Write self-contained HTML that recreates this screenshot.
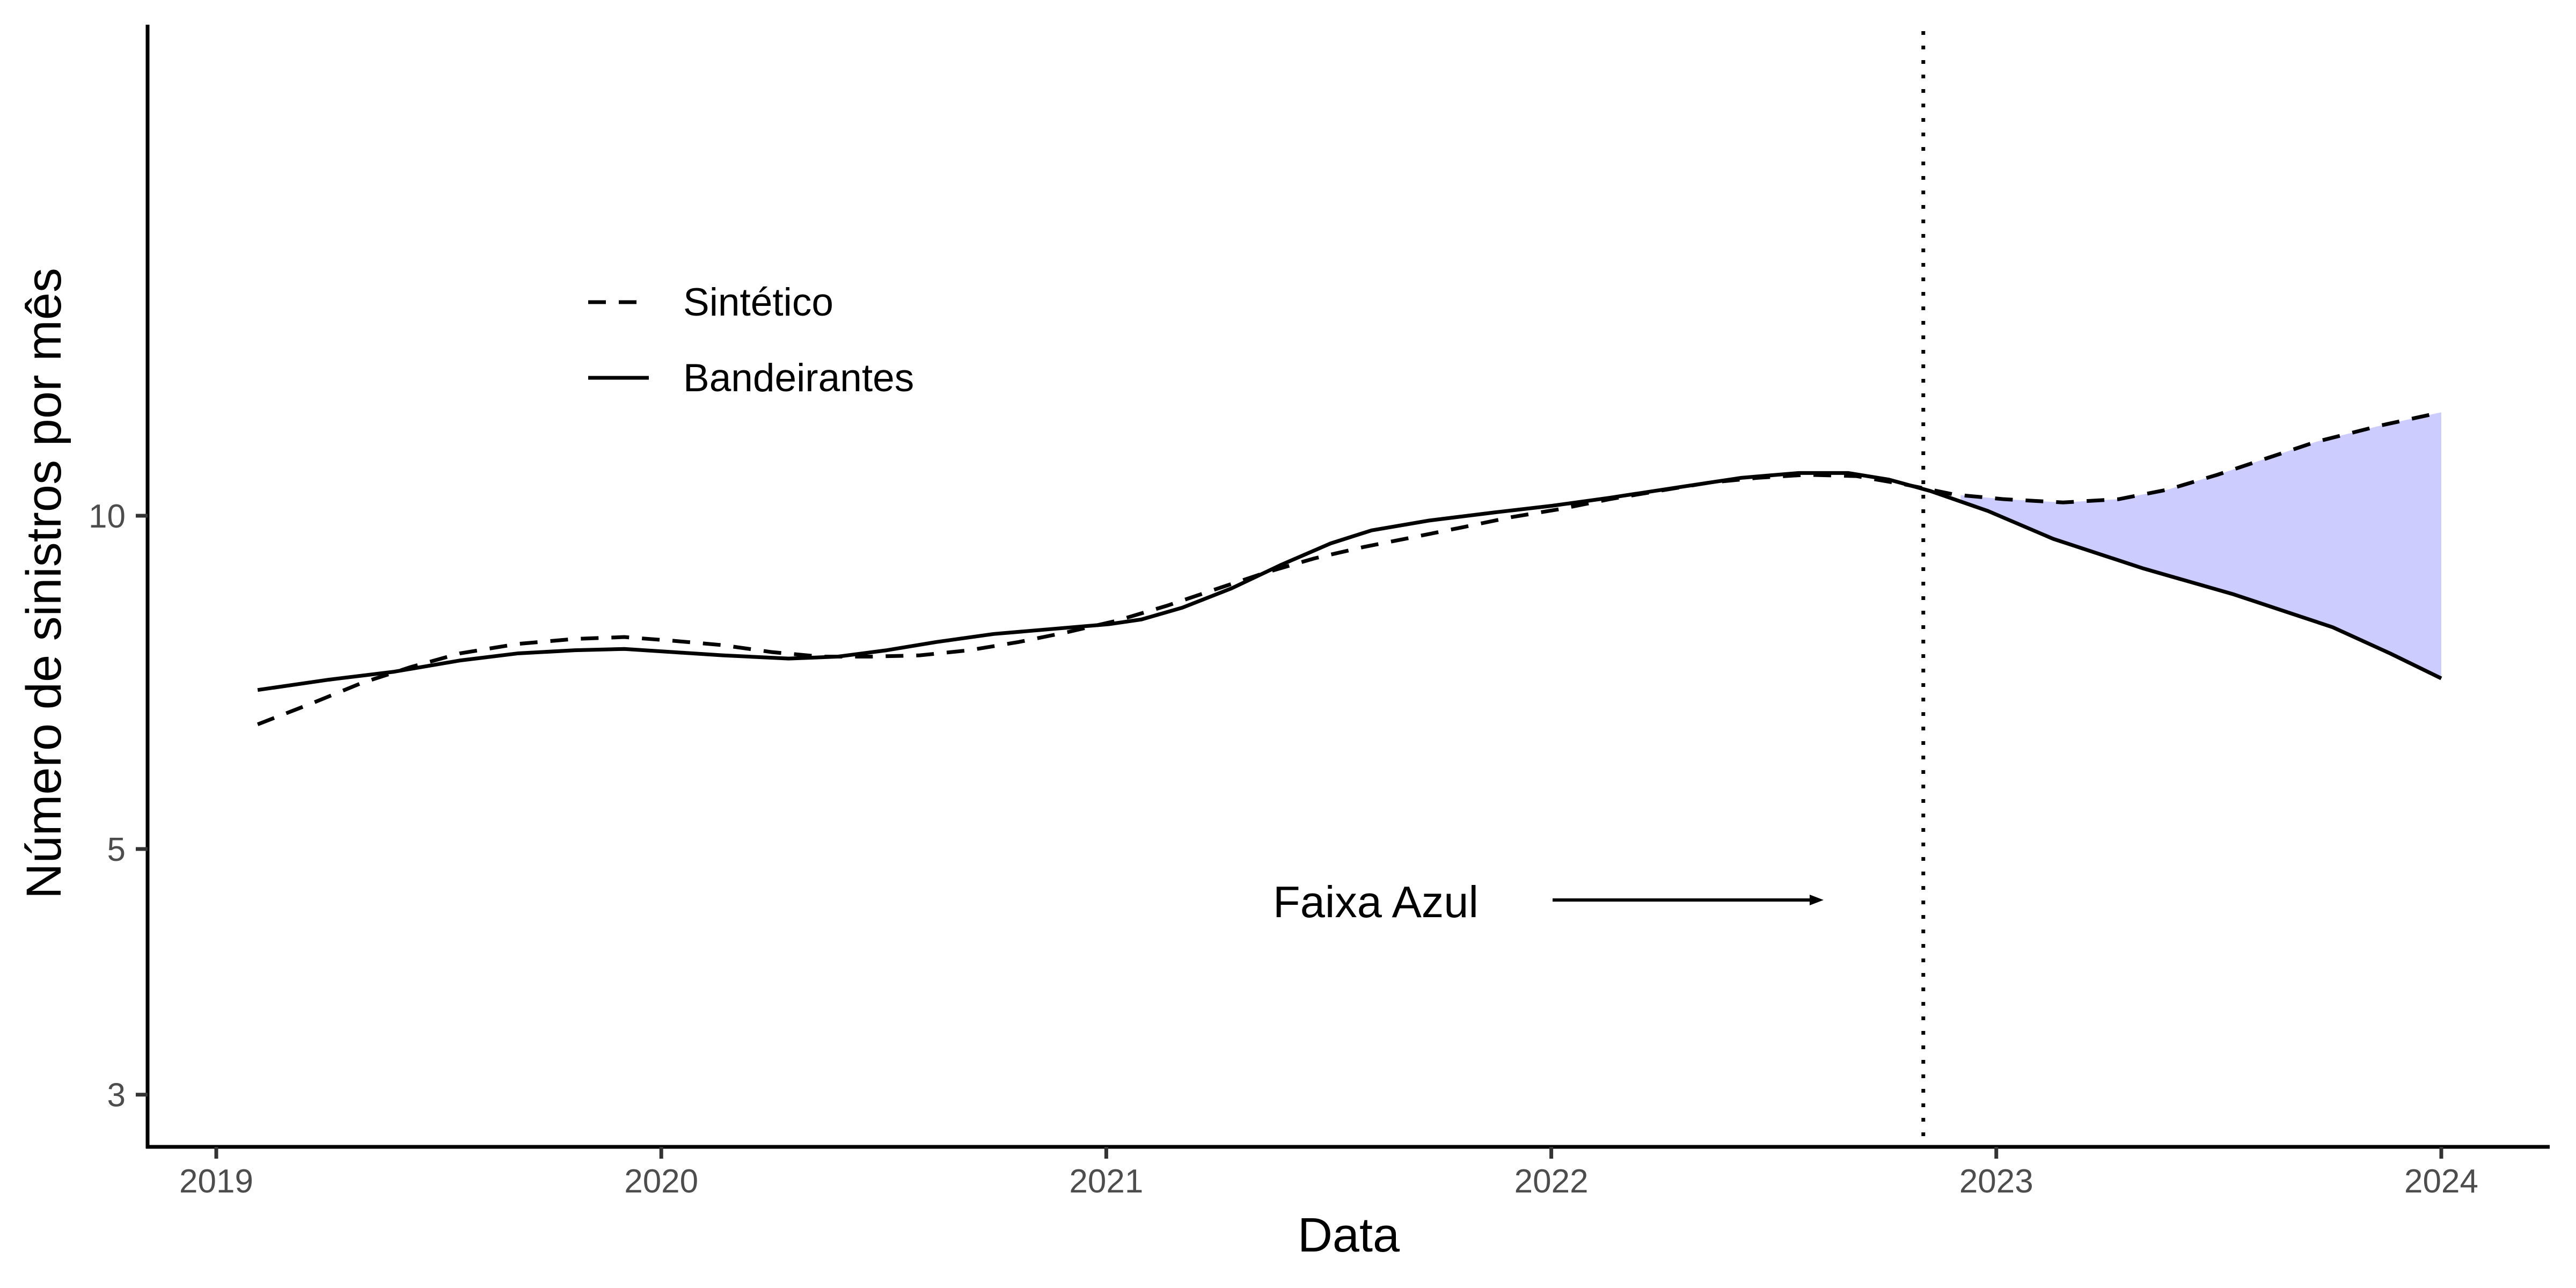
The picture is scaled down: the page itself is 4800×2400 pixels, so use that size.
<!DOCTYPE html>
<html><head><meta charset="utf-8">
<style>
html,body{margin:0;padding:0;background:#fff;}
svg{display:block;font-family:"Liberation Sans",Arial,sans-serif;}
</style></head>
<body>
<svg id="chart" width="4800" height="2400" viewBox="0 0 4800 2400" xmlns="http://www.w3.org/2000/svg">
  <rect x="0" y="0" width="4800" height="2400" fill="#fff"/>
  <g id="fill-layer"></g>
  <g id="series-layer"></g>
  <g id="axis-layer"></g>
  <g>
    <line x1="1096" y1="563" x2="1209" y2="563" stroke="#000" stroke-width="7" stroke-dasharray="33,24"/>
    <text x="1273" y="588" font-size="73" fill="#000">Sintético</text>
    <line x1="1096" y1="704" x2="1209" y2="704" stroke="#000" stroke-width="7"/>
    <text x="1273" y="729" font-size="73" fill="#000">Bandeirantes</text>
  </g>
  <g>
    <text x="2372" y="1709" font-size="83" fill="#000">Faixa Azul</text>
    <line x1="2893" y1="1677" x2="3375" y2="1677" stroke="#000" stroke-width="6"/>
    <polygon points="3398,1677 3372,1667 3372,1687" fill="#000"/>
  </g>
  <text x="2513" y="2332" font-size="90" text-anchor="middle" fill="#000">Data</text>
  <text transform="translate(113,1087) rotate(-90)" font-size="92" text-anchor="middle" fill="#000">Número de sinistros por mês</text>
</svg>
<script>
const solidYears = [2019.093,2019.252,2019.400,2019.547,2019.677,2019.806,2019.917,2020.027,2020.138,2020.286,2020.396,2020.507,2020.618,2020.747,2020.876,2021.005,2021.079,2021.171,2021.282,2021.393,2021.504,2021.596,2021.725,2021.873,2022.002,2022.131,2022.279,2022.427,2022.556,2022.667,2022.759,2022.851,2022.981,2023.128,2023.331,2023.534,2023.756,2023.885,2024.0];
const solidValues = [6.96,7.11,7.23,7.40,7.51,7.56,7.58,7.53,7.48,7.43,7.46,7.56,7.69,7.82,7.90,7.98,8.06,8.26,8.60,9.03,9.44,9.70,9.90,10.07,10.21,10.38,10.60,10.82,10.93,10.93,10.78,10.53,10.10,9.53,8.96,8.49,7.93,7.51,7.13];
const dashYears = [2019.093,2019.215,2019.326,2019.437,2019.547,2019.677,2019.806,2019.917,2020.027,2020.138,2020.249,2020.359,2020.470,2020.581,2020.692,2020.803,2020.913,2021.024,2021.135,2021.245,2021.356,2021.467,2021.578,2021.688,2021.799,2021.910,2022.020,2022.131,2022.242,2022.353,2022.463,2022.574,2022.685,2022.796,2022.906,2023.017,2023.150,2023.275,2023.386,2023.497,2023.608,2023.718,2023.866,2024.0];
const dashValues = [6.48,6.77,7.06,7.30,7.51,7.66,7.74,7.77,7.71,7.64,7.53,7.46,7.46,7.48,7.56,7.69,7.85,8.04,8.29,8.58,8.88,9.15,9.37,9.56,9.76,9.97,10.14,10.35,10.53,10.71,10.82,10.89,10.86,10.67,10.45,10.35,10.28,10.35,10.56,10.89,11.27,11.66,12.07,12.40];
const xTicks = [2019,2020,2021,2022,2023,2024];
const yTicks = [3,5,10];
const interventionYear = 2022.836;
const fillStartYear = 2022.92;

const NS = "http://www.w3.org/2000/svg";
const X0 = 275, YB = 2137, YT = 46, XR = 4751;
function xs(yr){ return 403 + (yr - 2019) * 829.2; }
function ys(v){ return 961 + (1 - Math.log10(v)) * 2063; }
function mk(tag, attrs, parent){ const e = document.createElementNS(NS, tag); for (const k in attrs) e.setAttribute(k, attrs[k]); parent.appendChild(e); return e; }
function interp(yrs, vals, t){
  for (let i = 0; i < yrs.length - 1; i++) if (t >= yrs[i] && t <= yrs[i+1]) { const f = (t - yrs[i]) / (yrs[i+1] - yrs[i]); return vals[i] + f * (vals[i+1] - vals[i]); }
  return vals[vals.length - 1];
}

const fl = document.getElementById('fill-layer');
let pts = [];
pts.push([xs(fillStartYear), ys(interp(dashYears, dashValues, fillStartYear))]);
dashYears.forEach((y, i) => { if (y > fillStartYear) pts.push([xs(y), ys(dashValues[i])]); });
const sRev = [];
solidYears.forEach((y, i) => { if (y > fillStartYear) sRev.push([xs(y), ys(solidValues[i])]); });
sRev.reverse().forEach(p => pts.push(p));
pts.push([xs(fillStartYear), ys(interp(solidYears, solidValues, fillStartYear))]);
const area = mk('polygon', {points: pts.map(p => p.join(',')).join(' '), fill: '#ccccff'}, fl);



const sl = document.getElementById('series-layer');
const vline = mk('line', {x1: xs(interventionYear), x2: xs(interventionYear), y1: 58, y2: YB, stroke: '#000', 'stroke-width': 7, 'stroke-dasharray': '7,20'}, sl);


const dPath = mk('polyline', {points: dashYears.map((y, i) => xs(y) + ',' + ys(dashValues[i])).join(' '), fill: 'none', stroke: '#000', 'stroke-width': 7, 'stroke-dasharray': '33,24'}, sl);


const sPath = mk('polyline', {points: solidYears.map((y, i) => xs(y) + ',' + ys(solidValues[i])).join(' '), fill: 'none', stroke: '#000', 'stroke-width': 7, 'stroke-linejoin': 'round'}, sl);



const al = document.getElementById('axis-layer');
const yAxis = mk('line', {x1: X0, x2: X0, y1: YT, y2: YB + 3, stroke: '#000', 'stroke-width': 7}, al);


const xAxis = mk('line', {x1: X0 - 3, x2: XR, y1: YB, y2: YB, stroke: '#000', 'stroke-width': 7}, al);


xTicks.forEach(t => {
  const tk = mk('line', {x1: xs(t), x2: xs(t), y1: YB, y2: YB + 22, stroke: '#333', 'stroke-width': 7}, al);
  
  
  const lb = mk('text', {x: xs(t), y: 2222, 'font-size': 62, 'text-anchor': 'middle', fill: '#4d4d4d'}, al);
  lb.textContent = t;
  
  
});
yTicks.forEach(t => {
  const tk = mk('line', {x1: X0 - 22, x2: X0, y1: ys(t), y2: ys(t), stroke: '#333', 'stroke-width': 7}, al);
  
  
  const lb = mk('text', {x: 234, y: ys(t) + 22, 'font-size': 62, 'text-anchor': 'end', fill: '#4d4d4d'}, al);
  lb.textContent = t;
  
  
});
</script>
</body></html>
